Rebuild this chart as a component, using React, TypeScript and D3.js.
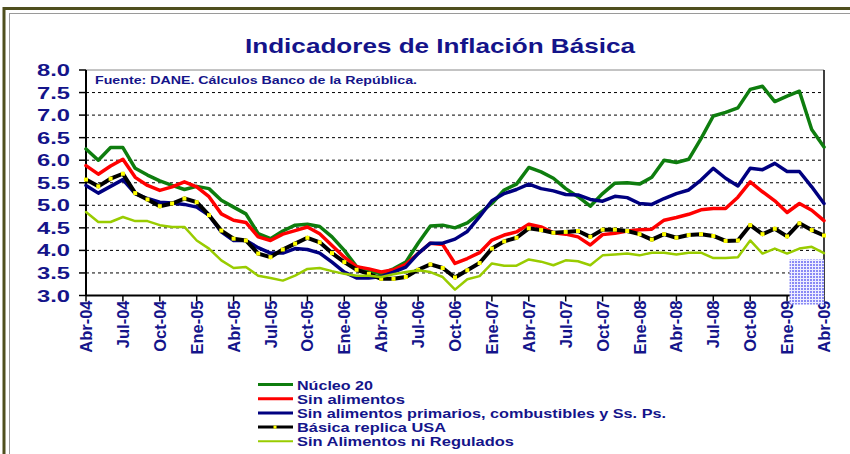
import * as d3 from "d3";

// months Abr-04 .. Abr-09, one value per month
const tickLabels = [
  "Abr-04", "Jul-04", "Oct-04", "Ene-05", "Abr-05", "Jul-05", "Oct-05",
  "Ene-06", "Abr-06", "Jul-06", "Oct-06", "Ene-07", "Abr-07", "Jul-07",
  "Oct-07", "Ene-08", "Abr-08", "Jul-08", "Oct-08", "Ene-09", "Abr-09",
];
const yTicks = [3.0, 3.5, 4.0, 4.5, 5.0, 5.5, 6.0, 6.5, 7.0, 7.5, 8.0];

const nucleo20 = [
  6.25, 6.0, 6.28, 6.28, 5.82, 5.67, 5.54, 5.44, 5.35, 5.42, 5.37, 5.11,
  4.96, 4.81, 4.37, 4.26, 4.43, 4.56, 4.58, 4.53, 4.3, 4.0, 3.64, 3.54,
  3.48, 3.59, 3.74, 4.16, 4.54, 4.56, 4.5, 4.61, 4.82, 5.04, 5.34, 5.47,
  5.84, 5.74, 5.6, 5.37, 5.19, 4.98, 5.26, 5.49, 5.5, 5.47, 5.62, 6.0,
  5.95, 6.02, 6.48, 6.98, 7.06, 7.16, 7.57, 7.64, 7.3, 7.42, 7.53, 6.68, 6.29,
];
const sinAlimentos = [
  5.88, 5.69, 5.87, 6.02, 5.62, 5.44, 5.33, 5.41, 5.52, 5.41, 5.19, 4.81,
  4.67, 4.62, 4.3, 4.22, 4.36, 4.44, 4.52, 4.37, 4.11, 3.85, 3.64, 3.59,
  3.52, 3.57, 3.69, 3.93, 4.16, 4.13, 3.71, 3.82, 3.95, 4.23, 4.34, 4.41,
  4.58, 4.52, 4.39, 4.36, 4.3, 4.12, 4.35, 4.38, 4.43, 4.46, 4.47, 4.67,
  4.73, 4.8, 4.9, 4.93, 4.93, 5.18, 5.52, 5.3, 5.1, 4.84, 5.04, 4.89, 4.66,
];
const sinPrimarios = [
  5.44, 5.27, 5.42, 5.57, 5.26, 5.15, 5.07, 5.05, 5.02, 4.96, 4.78, 4.41,
  4.22, 4.22, 4.06, 3.94, 3.94, 4.04, 4.02, 3.94, 3.74, 3.52, 3.39, 3.39,
  3.42, 3.52, 3.63, 3.93, 4.16, 4.16, 4.25, 4.42, 4.75, 5.1, 5.26, 5.35,
  5.47, 5.37, 5.32, 5.24, 5.23, 5.13, 5.09, 5.2, 5.17, 5.04, 5.02, 5.15,
  5.26, 5.34, 5.56, 5.82, 5.6, 5.43, 5.82, 5.79, 5.93, 5.75, 5.75, 5.41, 5.04,
];
const basicaUSA = [
  5.57, 5.42, 5.59, 5.7, 5.27, 5.13, 4.98, 5.04, 5.15, 5.07, 4.78, 4.44,
  4.26, 4.22, 3.93, 3.85, 4.02, 4.15, 4.28, 4.18, 3.94, 3.74, 3.57, 3.48,
  3.37, 3.37, 3.41, 3.57, 3.69, 3.61, 3.4, 3.56, 3.72, 4.04, 4.2, 4.28,
  4.49, 4.45, 4.39, 4.41, 4.43, 4.3, 4.46, 4.46, 4.43, 4.36, 4.24, 4.36,
  4.28, 4.34, 4.36, 4.32, 4.21, 4.22, 4.56, 4.36, 4.48, 4.31, 4.6, 4.45, 4.33,
];
const sinAlimNiReg = [
  4.85, 4.63, 4.63, 4.74, 4.65, 4.65, 4.56, 4.52, 4.52, 4.22, 4.04, 3.78,
  3.61, 3.63, 3.44, 3.39, 3.33, 3.44, 3.59, 3.61, 3.54, 3.48, 3.44, 3.44,
  3.41, 3.47, 3.52, 3.56, 3.52, 3.41, 3.13, 3.36, 3.43, 3.71, 3.66, 3.66,
  3.8, 3.75, 3.67, 3.78, 3.76, 3.67, 3.89, 3.91, 3.93, 3.89, 3.95, 3.95,
  3.91, 3.95, 3.95, 3.83, 3.83, 3.85, 4.22, 3.93, 4.04, 3.93, 4.04, 4.08, 3.94,
];

const series = [
  {name: "Núcleo 20", values: nucleo20, color: "#0e7d0e", width: 3.5, tl: 76},
  {name: "Sin alimentos", values: sinAlimentos, color: "#ff0000", width: 3.5, tl: 108},
  {name: "Sin alimentos primarios, combustibles y Ss. Ps.", values: sinPrimarios, color: "#000080", width: 3.5, tl: 369},
  {name: "Básica replica USA", values: basicaUSA, color: "#000000", width: 4, tl: 149, marker: true},
  {name: "Sin Alimentos ni Regulados", values: sinAlimNiReg, color: "#99cc00", width: 2.5, tl: 217},
];

const W = 850, H = 454;
const font = "'Liberation Sans', Arial, sans-serif";
const navy = "#14148a";

export default function App() {
  const x = d3.scaleLinear().domain([0, 60]).range([86, 824]);
  const y = d3.scaleLinear().domain([3, 8]).range([295.5, 70]);
  const line = d3.line<number>().x((d, i) => x(i)).y(d => y(d));

  return (
    <svg width={W} height={H} style={{position: "absolute", left: 0, top: 0, background: "#fff"}}>
      <defs>
        <pattern id="grid" width="3" height="3" patternUnits="userSpaceOnUse">
          <rect width="3" height="3" fill="#eeeeff" />
          <rect width="2" height="2" fill="#8a8af5" />
        </pattern>
      </defs>
      {/* outer frame */}
      <rect x={4} y={8.5} width={900} height={500} fill="none" stroke="#4f4f1e" strokeWidth={3} />
      <rect x={9.5} y={13.5} width={900} height={500} fill="none" stroke="#9a9a9a" strokeWidth={1} />

      <text x={440} y={53} textAnchor="middle" fontFamily={font} fontWeight="bold" fontSize={21}
        fill={navy} textLength={390} lengthAdjust="spacingAndGlyphs">Indicadores de Inflación Básica</text>

      {/* grid */}
      {yTicks.slice(1, -1).map(t => (
        <line key={t} x1={x(0)} x2={x(60)} y1={y(t)} y2={y(t)} stroke="#000" strokeWidth={1} strokeDasharray="3,3" />
      ))}
      <line x1={x(0)} x2={x(60)} y1={y(8)} y2={y(8)} stroke="#888" strokeWidth={1} />
      <line x1={x(60)} x2={x(60)} y1={y(8)} y2={y(3)} stroke="#000" strokeWidth={1.5} />

      {/* y axis */}
      <line x1={x(0)} x2={x(0)} y1={y(8)} y2={y(3)} stroke="#000" strokeWidth={2} />
      {yTicks.map(t => (
        <g key={t}>
          <line x1={x(0) - 7} x2={x(0)} y1={y(t)} y2={y(t)} stroke="#000" strokeWidth={1.5} />
          <text x={70} y={y(t) + 6} textAnchor="end" fontFamily={font} fontWeight="bold" fontSize={17}
            fill={navy} textLength={33} lengthAdjust="spacingAndGlyphs">{t.toFixed(1)}</text>
        </g>
      ))}

      {/* x axis */}
      <line x1={x(0)} x2={x(60)} y1={y(3)} y2={y(3)} stroke="#000" strokeWidth={2} />
      {tickLabels.map((lab, k) => (
        <g key={lab}>
          <line x1={x(k * 3)} x2={x(k * 3)} y1={y(3)} y2={y(3) + 6} stroke="#000" strokeWidth={1.5} />
          <text transform={`translate(${x(k * 3) + 6},${y(3) + 5}) rotate(-90)`} textAnchor="end"
            fontFamily={font} fontWeight="bold" fontSize={16.5} fill={navy}>{lab}</text>
        </g>
      ))}

      <text x={95} y={84} fontFamily={font} fontWeight="bold" fontSize={11.5} fill={navy}
        textLength={322} lengthAdjust="spacingAndGlyphs">Fuente: DANE. Cálculos Banco de la República.</text>

      {/* series */}
      {series.map(s => (
        <g key={s.name}>
          <path d={line(s.values) || ""} fill="none" stroke={s.color} strokeWidth={s.width}
            strokeLinejoin="round" strokeLinecap="round" />
          {s.marker && s.values.map((v, i) => (
            <rect key={i} x={x(i) - 2} y={y(v) - 2} width={4} height={4} fill="#ffff00" />
          ))}
        </g>
      ))}

      <rect x={x(57.2)} y={y(3.8)} width={x(60) - x(57.2)} height={y(2.8) - y(3.8)} fill="url(#grid)" />

      {/* legend */}
      {series.map((s, i) => {
        const ly = 384.5 + i * 14.2;
        return (
          <g key={s.name}>
            <line x1={258} x2={293} y1={ly} y2={ly} stroke={s.color} strokeWidth={s.width === 2.5 ? 2 : 3} />
            {s.marker && <rect x={273.5} y={ly - 1.5} width={3} height={3} fill="#ffff00" />}
            <text x={297} y={ly + 5} fontFamily={font} fontWeight="bold" fontSize={13} fill={navy}
              textLength={s.tl} lengthAdjust="spacingAndGlyphs">{s.name}</text>
          </g>
        );
      })}
    </svg>
  );
}
